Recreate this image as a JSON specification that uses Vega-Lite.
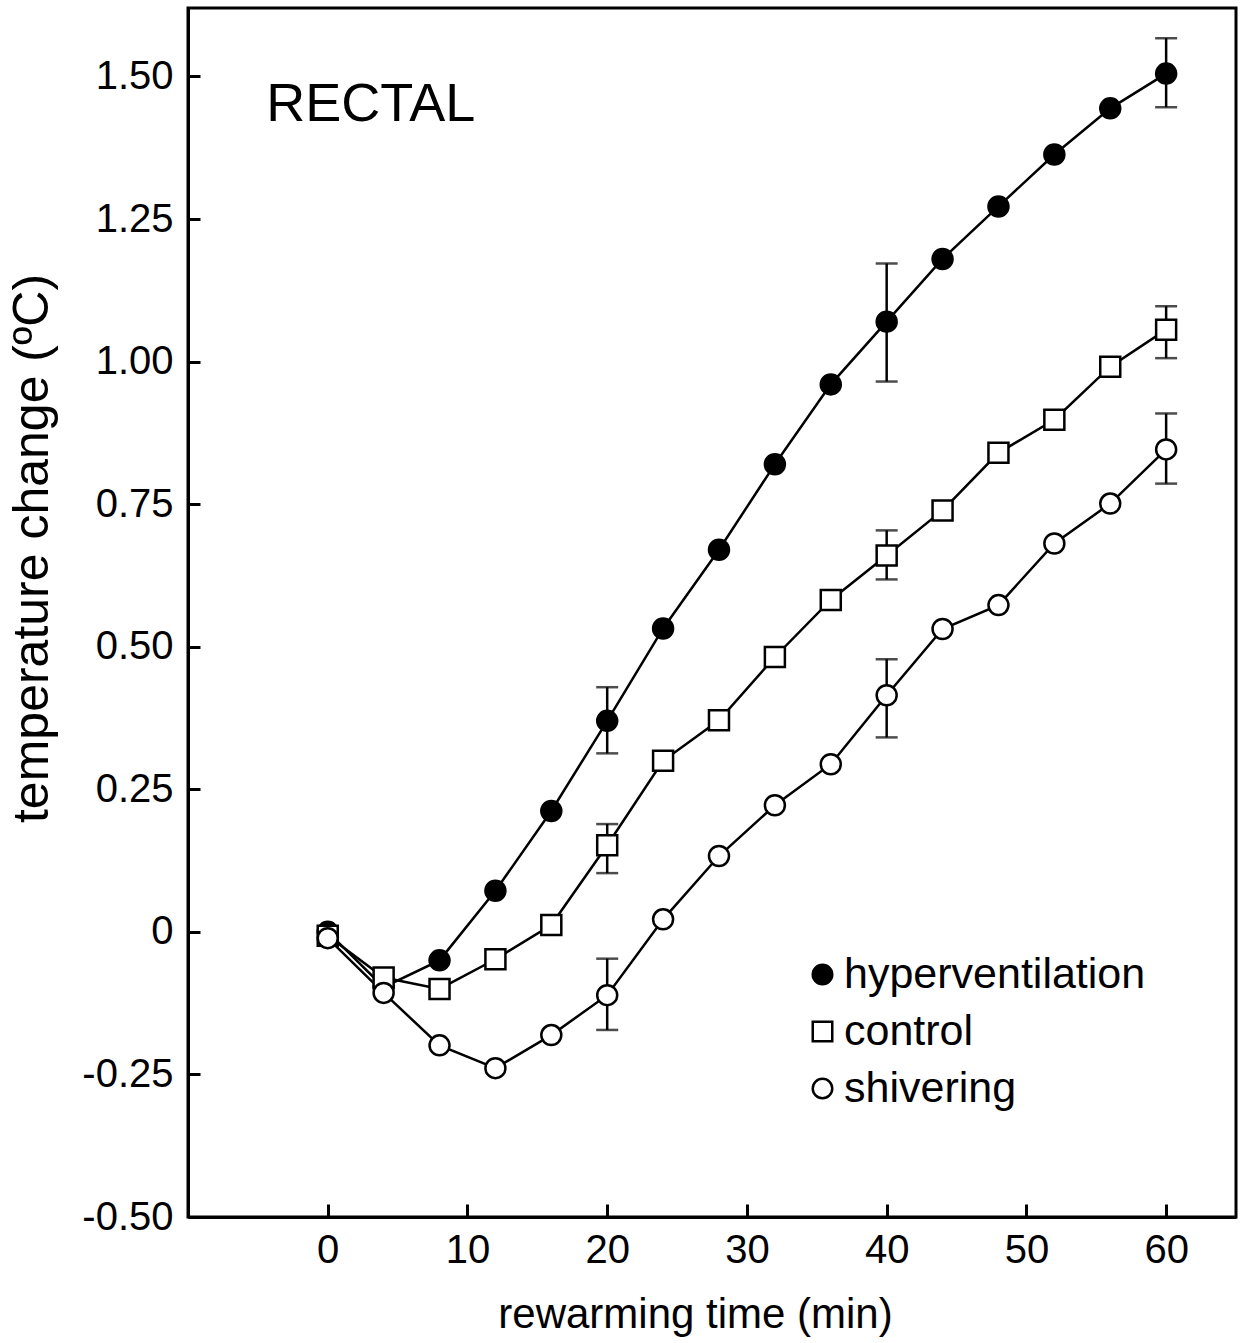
{
  "$schema": "https://vega.github.io/schema/vega-lite/v6.json",
  "width": 1048,
  "height": 1209,
  "autosize": {"type": "none"},
  "padding": {"left": 188, "top": 8, "right": 8, "bottom": 126},
  "background": "white",
  "config": {
    "font": "Liberation Sans",
    "view": {"stroke": "black", "strokeWidth": 3},
    "axis": {"grid": false, "domainColor": "black", "domainWidth": 3, "tickColor": "black", "tickWidth": 3, "labelColor": "black", "titleColor": "black", "labelFont": "Liberation Sans", "titleFont": "Liberation Sans", "titleFontWeight": "normal"}
  },
  "datasets": {
    "pts": [
      {"series": "hyperventilation", "t": 0, "v": 0},
      {"series": "hyperventilation", "t": 4, "v": -0.097},
      {"series": "hyperventilation", "t": 8, "v": -0.05},
      {"series": "hyperventilation", "t": 12, "v": 0.072},
      {"series": "hyperventilation", "t": 16, "v": 0.212},
      {"series": "hyperventilation", "t": 20, "v": 0.37},
      {"series": "hyperventilation", "t": 24, "v": 0.532},
      {"series": "hyperventilation", "t": 28, "v": 0.67},
      {"series": "hyperventilation", "t": 32, "v": 0.82},
      {"series": "hyperventilation", "t": 36, "v": 0.96},
      {"series": "hyperventilation", "t": 40, "v": 1.07},
      {"series": "hyperventilation", "t": 44, "v": 1.18},
      {"series": "hyperventilation", "t": 48, "v": 1.272},
      {"series": "hyperventilation", "t": 52, "v": 1.363},
      {"series": "hyperventilation", "t": 56, "v": 1.444},
      {"series": "hyperventilation", "t": 60, "v": 1.505},
      {"series": "control", "t": 0, "v": -0.007},
      {"series": "control", "t": 4, "v": -0.08},
      {"series": "control", "t": 8, "v": -0.1},
      {"series": "control", "t": 12, "v": -0.048},
      {"series": "control", "t": 16, "v": 0.012},
      {"series": "control", "t": 20, "v": 0.152},
      {"series": "control", "t": 24, "v": 0.3},
      {"series": "control", "t": 28, "v": 0.371},
      {"series": "control", "t": 32, "v": 0.482},
      {"series": "control", "t": 36, "v": 0.582},
      {"series": "control", "t": 40, "v": 0.66},
      {"series": "control", "t": 44, "v": 0.739},
      {"series": "control", "t": 48, "v": 0.84},
      {"series": "control", "t": 52, "v": 0.898},
      {"series": "control", "t": 56, "v": 0.991},
      {"series": "control", "t": 60, "v": 1.056},
      {"series": "shivering", "t": 0, "v": -0.011},
      {"series": "shivering", "t": 4, "v": -0.107},
      {"series": "shivering", "t": 8, "v": -0.199},
      {"series": "shivering", "t": 12, "v": -0.239},
      {"series": "shivering", "t": 16, "v": -0.181},
      {"series": "shivering", "t": 20, "v": -0.111},
      {"series": "shivering", "t": 24, "v": 0.022},
      {"series": "shivering", "t": 28, "v": 0.133},
      {"series": "shivering", "t": 32, "v": 0.222},
      {"series": "shivering", "t": 36, "v": 0.294},
      {"series": "shivering", "t": 40, "v": 0.415},
      {"series": "shivering", "t": 44, "v": 0.531},
      {"series": "shivering", "t": 48, "v": 0.573},
      {"series": "shivering", "t": 52, "v": 0.681},
      {"series": "shivering", "t": 56, "v": 0.751},
      {"series": "shivering", "t": 60, "v": 0.846}
    ],
    "errs": [
      {"series": "hyperventilation", "t": 20, "lo": 0.313, "hi": 0.429},
      {"series": "hyperventilation", "t": 40, "lo": 0.965, "hi": 1.172},
      {"series": "hyperventilation", "t": 60, "lo": 1.446, "hi": 1.567},
      {"series": "control", "t": 20, "lo": 0.103, "hi": 0.189},
      {"series": "control", "t": 40, "lo": 0.618, "hi": 0.704},
      {"series": "control", "t": 60, "lo": 1.006, "hi": 1.097},
      {"series": "shivering", "t": 20, "lo": -0.172, "hi": -0.047},
      {"series": "shivering", "t": 40, "lo": 0.341, "hi": 0.478},
      {"series": "shivering", "t": 60, "lo": 0.786, "hi": 0.909}
    ],
    "notes": [
      {"label": "RECTAL", "t": -4.4, "v": 1.45}
    ]
  },
  "layer": [
    {
      "data": {"name": "pts"},
      "mark": {"type": "line", "color": "black", "strokeWidth": 2.5},
      "encoding": {
        "x": {"field": "t", "type": "quantitative", "scale": {"domain": [-10, 65], "nice": false, "zero": false},
              "axis": {"values": [0, 10, 20, 30, 40, 50, 60], "tickSize": -13, "labelPadding": 26, "labelFontSize": 40, "title": "rewarming time (min)", "titleFontSize": 42, "titlePadding": 24, "titleX": 507}},
        "y": {"field": "v", "type": "quantitative", "scale": {"domain": [-0.5, 1.62], "nice": false, "zero": false},
              "axis": {"values": [-0.5, -0.25, 0, 0.25, 0.5, 0.75, 1.0, 1.25, 1.5], "tickSize": -12, "labelPadding": 27, "labelFontSize": 40,
                       "labelExpr": "datum.value == 0 ? '0' : (datum.value < 0 ? '-' : '') + format(abs(datum.value), '.2f')",
                       "title": "temperature change (ºC)", "titleFontSize": 50, "titleX": -131, "titleY": 540}},
        "detail": {"field": "series"},
        "order": {"field": "t", "type": "quantitative"}
      }
    },
    {
      "data": {"name": "errs"},
      "mark": {"type": "rule", "color": "black", "strokeWidth": 2.5},
      "encoding": {
        "x": {"field": "t", "type": "quantitative"},
        "y": {"field": "lo", "type": "quantitative"},
        "y2": {"field": "hi"}
      }
    },
    {
      "data": {"name": "errs"},
      "mark": {"type": "tick", "color": "black", "size": 22, "thickness": 2.5, "orient": "horizontal"},
      "encoding": {
        "x": {"field": "t", "type": "quantitative"},
        "y": {"field": "lo", "type": "quantitative"}
      }
    },
    {
      "data": {"name": "errs"},
      "mark": {"type": "tick", "color": "black", "size": 22, "thickness": 2.5, "orient": "horizontal"},
      "encoding": {
        "x": {"field": "t", "type": "quantitative"},
        "y": {"field": "hi", "type": "quantitative"}
      }
    },
    {
      "data": {"name": "pts"},
      "mark": {"type": "point", "strokeWidth": 2.5, "opacity": 1, "filled": false},
      "encoding": {
        "x": {"field": "t", "type": "quantitative"},
        "y": {"field": "v", "type": "quantitative"},
        "shape": {"field": "series", "type": "nominal", "scale": {"domain": ["hyperventilation", "control", "shivering"], "range": ["circle", "square", "circle"]},
                  "legend": {"title": null, "orient": "none", "legendX": 613, "legendY": 945, "labelFontSize": 43, "labelFont": "Liberation Sans", "labelColor": "black", "labelLimit": 0, "symbolSize": 380, "symbolStrokeWidth": 2.5, "rowPadding": 13, "labelOffset": 0}},
        "fill": {"field": "series", "type": "nominal", "scale": {"domain": ["hyperventilation", "control", "shivering"], "range": ["black", "white", "white"]}},
        "stroke": {"field": "series", "type": "nominal", "scale": {"domain": ["hyperventilation", "control", "shivering"], "range": ["black", "black", "black"]}},
        "size": {"value": 400}
      }
    },
    {
      "data": {"name": "notes"},
      "mark": {"type": "text", "align": "left", "baseline": "middle", "fontSize": 54, "font": "Liberation Sans", "color": "black"},
      "encoding": {
        "x": {"field": "t", "type": "quantitative"},
        "y": {"field": "v", "type": "quantitative"},
        "text": {"field": "label"}
      }
    }
  ]
}
